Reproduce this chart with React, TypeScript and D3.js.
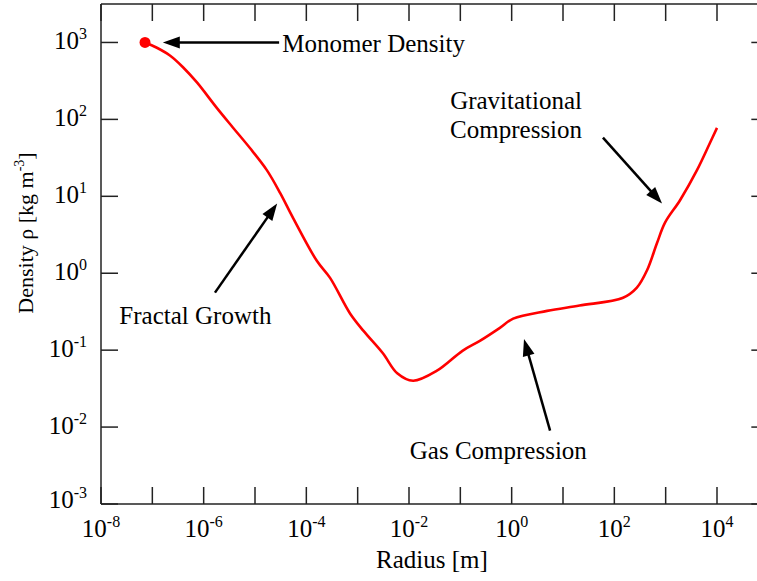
import React from 'react';
import * as d3 from 'd3';

// curve
const radius = [
  7.2e-8, 1.2e-7, 2.2e-7, 4.0e-7, 7.4e-7, 1.8e-6, 3.7e-6, 7.9e-6, 1.7e-5, 3.1e-5, 5.5e-5, 1.6e-4,
  2.9e-4, 7.1e-4, 1.3e-3, 3.1e-3, 5.9e-3, 1.2e-2, 3.5e-2, 0.11, 0.24, 0.59,
  1.07, 4.9, 21, 148, 275, 436, 676, 977, 1905, 4074, 7244, 10000,
];
const density = [
  1000, 860, 676, 473, 302, 141, 78.5, 42.7, 21.9, 11.0, 5.25, 1.45,
  0.87, 0.30, 0.178, 0.091, 0.050, 0.040, 0.054, 0.098, 0.132, 0.195,
  0.257, 0.324, 0.38, 0.48, 0.65, 1.10, 2.45, 4.57, 8.9, 21.9, 49, 77.6,
];

const xTickExps = [-8, -6, -4, -2, 0, 2, 4];
const yTickExps = [-3, -2, -1, 0, 1, 2, 3];

// annotations: label lines, label anchor (data units), arrow tail -> tip (data units)
const annotations = [
  { lines: ['Monomer Density'], anchor: 'start', at: [3.4e-5, 760], from: [2.95e-5, 1000], to: [1.6e-7, 1000] },
  { lines: ['Fractal Growth'], anchor: 'middle', at: [6.9e-7, 0.22], from: [1.66e-6, 0.56], to: [2.7e-5, 8.05] },
  { lines: ['Gas Compression'], anchor: 'middle', at: [0.55, 0.0039], from: [5.6, 0.009], to: [1.74, 0.14] },
  { lines: ['Gravitational', 'Compression'], anchor: 'middle', at: [1.22, 138], from: [60, 58], to: [850, 8.05] },
];

const W = 757;
const H = 581;
const left = 101;
const top = 4;
const bottom = 504;
const FONT = '"Liberation Serif", "Times New Roman", serif';
const FS = 25;
const SUP = 16;
const TICK = 17;

function Arrow({ x1, y1, x2, y2 }: { x1: number; y1: number; x2: number; y2: number }) {
  const ang = Math.atan2(y2 - y1, x2 - x1);
  const len = 17;
  const hw = 6;
  const bx = x2 - Math.cos(ang) * len;
  const by = y2 - Math.sin(ang) * len;
  const px = -Math.sin(ang) * hw;
  const py = Math.cos(ang) * hw;
  return (
    <g>
      <line x1={x1} y1={y1} x2={bx + Math.cos(ang) * 2} y2={by + Math.sin(ang) * 2} stroke="#000" strokeWidth={2.5} />
      <polygon points={`${x2},${y2} ${bx + px},${by + py} ${bx - px},${by - py}`} fill="#000" />
    </g>
  );
}

export default function App() {
  const x = d3.scaleLog().domain([1e-8, 1e5]).range([left, left + 13 * (616 / 12)]);
  const y = d3.scaleLog().domain([1e-3, Math.pow(10, 3.5)]).range([bottom, top]);
  const right = x.range()[1];

  const pts: [number, number][] = radius.map((r, i) => [x(r), y(density[i])]);
  const path = d3.line().curve(d3.curveCatmullRom.alpha(0.5))(pts) || '';

  const allX = d3.range(-8, 6).map(e => Math.pow(10, e));
  const allY = d3.range(-3, 4).map(e => Math.pow(10, e));

  return (
    <svg width={W} height={H} style={{ position: 'absolute', left: 0, top: 0, background: '#fff' }} fontFamily={FONT}>
      {/* frame */}
      <g stroke="#222" strokeWidth={1.5} fill="none">
        <line x1={left} y1={top} x2={right} y2={top} />
        <line x1={left} y1={bottom} x2={right} y2={bottom} />
        <line x1={left} y1={top} x2={left} y2={bottom} />
        <line x1={right} y1={top} x2={right} y2={bottom} />
        {allX.map(v => (
          <g key={'x' + v}>
            <line x1={x(v)} x2={x(v)} y1={bottom} y2={bottom - TICK} />
            <line x1={x(v)} x2={x(v)} y1={top} y2={top + TICK} />
          </g>
        ))}
        {allY.map(v => (
          <g key={'y' + v}>
            <line x1={left} x2={left + TICK} y1={y(v)} y2={y(v)} />
            <line x1={right} x2={right - TICK} y1={y(v)} y2={y(v)} />
          </g>
        ))}
      </g>

      {/* tick labels */}
      {xTickExps.map(e => (
        <text key={'xl' + e} x={x(Math.pow(10, e))} y={537} fontSize={FS} textAnchor="middle" fill="#000">
          10<tspan fontSize={SUP} dy={-10}>{e}</tspan>
        </text>
      ))}
      {yTickExps.map(e => (
        <text key={'yl' + e} x={87} y={y(Math.pow(10, e)) + (e === -3 ? 4 : 7)} fontSize={FS} textAnchor="end" fill="#000">
          10<tspan fontSize={SUP} dy={-10}>{e}</tspan>
        </text>
      ))}

      {/* axis titles */}
      <text x={432} y={568} fontSize={FS} textAnchor="middle" fill="#000">Radius [m]</text>
      <text transform={`translate(33,233) rotate(-90)`} fontSize={22} textAnchor="middle" fill="#000">
        Density ρ [kg m<tspan fontSize={14} dy={-9}>-3</tspan><tspan dy={9}>]</tspan>
      </text>

      {/* curve */}
      <path d={path} fill="none" stroke="#ff0000" strokeWidth={2.6} strokeLinejoin="round" />
      <circle cx={x(radius[0])} cy={y(density[0])} r={5.5} fill="#ff0000" />

      {/* annotations */}
      {annotations.map((a, i) => (
        <g key={'a' + i}>
          <Arrow x1={x(a.from[0])} y1={y(a.from[1])} x2={x(a.to[0])} y2={y(a.to[1])} />
          {a.lines.map((t, j) => (
            <text key={j} x={x(a.at[0])} y={y(a.at[1]) + j * 29} fontSize={FS} textAnchor={a.anchor as any} fill="#000">
              {t}
            </text>
          ))}
        </g>
      ))}
    </svg>
  );
}
